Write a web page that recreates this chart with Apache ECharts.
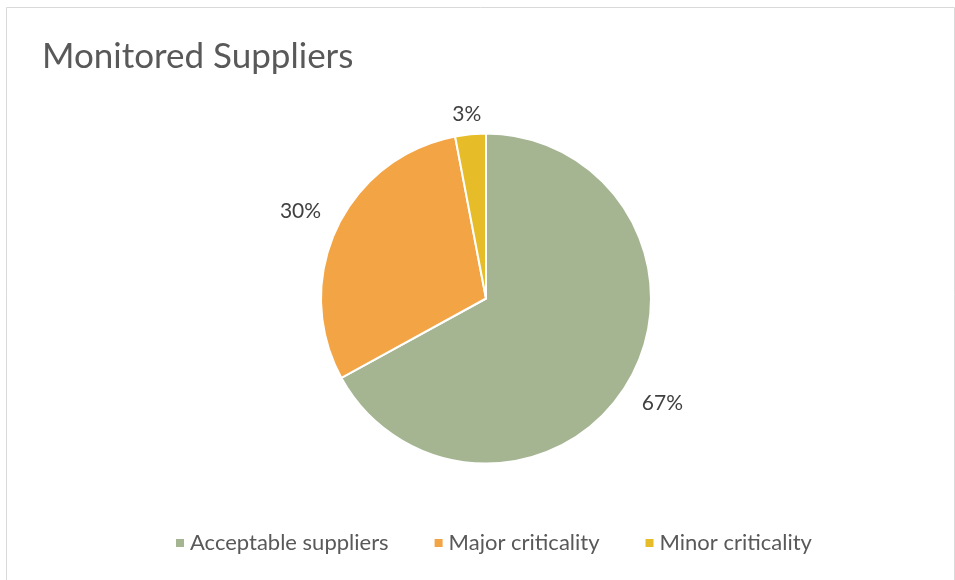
<!DOCTYPE html>
<html><head><meta charset="utf-8">
<script src="https://cdn.jsdelivr.net/npm/echarts@6/dist/echarts.min.js"></script>
<style>html,body{margin:0;padding:0;background:#fff}#c{width:955px;height:580px}</style>
</head><body><div id="c"></div>
<script>
const categories = ['Acceptable suppliers', 'Major criticality', 'Minor criticality'];
const values = [67, 30, 3];
const colors = ['#A5B592', '#F3A546', '#E7BC29'];
const titleText = 'Monitored Suppliers';

const chart = echarts.init(document.getElementById('c'));
const data = categories.map((n, i) => ({ name: n, value: values[i], itemStyle: { color: colors[i] } }));
const font = 'Lato, "Open Sans", sans-serif';
chart.setOption({
  animation: false,
  graphic: [{ type: 'rect', shape: { x: 6.5, y: 7.5, width: 948, height: 600 }, style: { fill: 'none', stroke: '#d9d9d9', lineWidth: 1 }, silent: true }],
  title: { text: titleText, left: 37, top: 34, textStyle: { fontFamily: font, fontSize: 35, fontWeight: 'normal', color: '#595959' } },
  legend: {
    bottom: 21, left: 169, itemWidth: 10, itemHeight: 10, itemGap: 44,
    icon: 'rect', data: categories,
    textStyle: { fontFamily: font, fontSize: 22, color: '#595959' }
  },
  series: [{
    type: 'pie', center: [486, 298.5], radius: 165, startAngle: 90, clockwise: true,
    data: data, label: { show: false }, labelLine: { show: false },
    itemStyle: { borderColor: '#fff', borderWidth: 2 }
  }, {
    type: 'pie', center: [486, 298.5], radius: [180, 224], startAngle: 90, clockwise: true, silent: true,
    data: categories.map((n, i) => ({ name: n, value: values[i], label: i === 2 ? { offset: [0, 20] } : {} })),
    itemStyle: { color: 'rgba(0,0,0,0)' }, legendHoverLink: false,
    label: { show: true, position: 'inside', formatter: '{d}%', fontFamily: font, fontSize: 21, color: '#404040' },
    labelLine: { show: false }
  }]
});
</script></body></html>
